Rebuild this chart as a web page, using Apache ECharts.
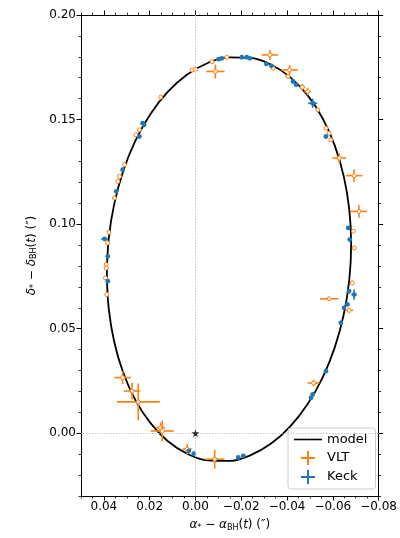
<!DOCTYPE html>
<html>
<head>
<meta charset="utf-8">
<script src="https://cdn.jsdelivr.net/npm/echarts@6/dist/echarts.min.js"></script>
<style>
html,body{margin:0;padding:0;background:#fff;}
#c{width:400px;height:538px;}
</style>
</head>
<body>
<div id="c"></div>
<script>
// ---- model orbit (points read along the drawn ellipse) ----
const modelX = [0.03870,0.03789,0.03548,0.03155,0.02622,0.01964,0.01203,0.00360,-0.00539,-0.01465,-0.02391,-0.03290,-0.04133,-0.04894,-0.05552,-0.06085,-0.06478,-0.06719,-0.06800,-0.06719,-0.06478,-0.06085,-0.05552,-0.04894,-0.04133,-0.03290,-0.02391,-0.01465,-0.00539,0.00360,0.01203,0.01964,0.02622,0.03155,0.03548,0.03789,0.03870];
const modelY = [0.07625,0.09311,0.10967,0.12544,0.13992,0.15267,0.16332,0.17154,0.17706,0.17975,0.17950,0.17632,0.17032,0.16167,0.15064,0.13756,0.12283,0.10689,0.09025,0.07339,0.05683,0.04106,0.02658,0.01383,0.00318,-0.00504,-0.01056,-0.01325,-0.01300,-0.00982,-0.00382,0.00483,0.01586,0.02894,0.04367,0.05961,0.07625];

// ---- VLT astrometry ----
const vltX  = [0.0152,0.0015,0.0000,-0.0087,-0.0072,-0.0137,-0.0325,-0.0339,-0.0411,-0.0404,-0.0467,-0.0490,-0.0534,-0.0570,-0.0584,-0.0591,-0.0628,-0.0693,-0.0714,-0.0690,-0.0693,-0.0685,-0.0584,-0.0671,-0.0516,0.0318,0.0277,0.0250,0.0152,0.0145,0.0036,-0.0084,0.0245,0.0260,0.0310,0.0332,0.0339,0.0354,0.0378,0.0383,0.0390,0.0390,0.0393,0.0387];
const vltY  = [0.1607,0.1737,0.1740,0.1730,0.1777,0.1798,0.1809,0.1746,0.1737,0.1706,0.1655,0.1634,0.1547,0.1459,0.1435,0.1403,0.1316,0.1232,0.1061,0.0966,0.0886,0.0719,0.0643,0.0588,0.0240,0.0266,0.0202,0.0150,0.0027,0.0011,-0.0076,-0.0124,0.1451,0.1427,0.1284,0.1228,0.1204,0.1125,0.0961,0.0910,0.0807,0.0790,0.0743,0.0663];
const vltEx = [0.0006,0.0006,0.0006,0.0040,0.0006,0.0006,0.0036,0.0006,0.0036,0.0008,0.0012,0.0015,0.0006,0.0006,0.0006,0.0006,0.0030,0.0036,0.0036,0.0006,0.0006,0.0006,0.0040,0.0017,0.0026,0.0036,0.0036,0.0094,0.0020,0.0050,0.0020,0.0043,0.0006,0.0006,0.0006,0.0006,0.0006,0.0006,0.0006,0.0006,0.0006,0.0006,0.0006,0.0006];
const vltEy = [0.0006,0.0006,0.0006,0.0033,0.0006,0.0006,0.0024,0.0006,0.0024,0.0008,0.0015,0.0018,0.0006,0.0006,0.0006,0.0006,0.0024,0.0030,0.0030,0.0006,0.0006,0.0010,0.0010,0.0012,0.0016,0.0030,0.0040,0.0088,0.0024,0.0050,0.0024,0.0045,0.0006,0.0006,0.0006,0.0006,0.0006,0.0006,0.0006,0.0006,0.0006,0.0006,0.0006,0.0006];

// ---- Keck astrometry ----
const keckX  = [-0.0101,-0.0115,-0.0202,-0.0224,-0.0238,-0.0310,-0.0332,-0.0426,-0.0440,-0.0512,-0.0570,-0.0667,-0.0674,-0.0671,-0.0693,-0.0664,-0.0649,-0.0635,-0.0570,-0.0512,-0.0505,0.0029,0.0007,-0.0187,-0.0209,0.0231,0.0224,0.0245,0.0318,0.0346,0.0397,0.0383,0.0383];
const keckY  = [0.1789,0.1793,0.1798,0.1798,0.1793,0.1766,0.1757,0.1682,0.1666,0.1578,0.1419,0.0982,0.0926,0.0679,0.0663,0.0616,0.0600,0.0528,0.0297,0.0186,0.0170,-0.0084,-0.0097,-0.0116,-0.0108,0.1483,0.1475,0.1419,0.1260,0.1157,0.0929,0.0846,0.0727];
const keckEx = [0.0008,0.0008,0.0008,0.0008,0.0008,0.0008,0.0008,0.0008,0.0008,0.0020,0.0008,0.0008,0.0008,0.0008,0.0012,0.0008,0.0008,0.0008,0.0008,0.0008,0.0008,0.0008,0.0008,0.0008,0.0008,0.0008,0.0008,0.0008,0.0008,0.0008,0.0015,0.0008,0.0008];
const keckEy = [0.0006,0.0006,0.0006,0.0006,0.0006,0.0006,0.0006,0.0006,0.0006,0.0022,0.0006,0.0006,0.0006,0.0010,0.0024,0.0008,0.0008,0.0010,0.0008,0.0008,0.0008,0.0006,0.0006,0.0006,0.0006,0.0006,0.0006,0.0006,0.0006,0.0006,0.0008,0.0006,0.0006];

// ---- black hole position ----
const bhX = [0];
const bhY = [0];

// ---- ticks ----
const xMajorTicks = [-0.08,-0.06,-0.04,-0.02,0,0.02,0.04];
const yMajorTicks = [0,0.05,0.10,0.15,0.20];

const FONT = 'DejaVu Sans';
const ORANGE = '#ff7f0e', BLUE = '#1f77b4';

function fmt(v){
  if (Math.abs(v) < 1e-9) v = 0;
  return v.toFixed(2).replace('-', '\u2212');
}

function errRender(color, filled){
  return function(params, api){
    const x = api.value(0), y = api.value(1), ex = api.value(2), ey = api.value(3);
    const c = api.coord([x, y]);
    const l = api.coord([x - ex, y]), r = api.coord([x + ex, y]);
    const t = api.coord([x, y + ey]), b = api.coord([x, y - ey]);
    return {
      type: 'group',
      children: [
        {type:'line', shape:{x1:l[0], y1:l[1], x2:r[0], y2:r[1]}, style:{stroke:color, lineWidth:1.6}},
        {type:'line', shape:{x1:t[0], y1:t[1], x2:b[0], y2:b[1]}, style:{stroke:color, lineWidth:1.6}},
        {type:'circle', shape:{cx:c[0], cy:c[1], r: filled ? 2.4 : 2.0},
          style: filled ? {fill:color} : {fill:'#fff', stroke:color, lineWidth:1}}
      ]
    };
  };
}

const xBase = {type:'value', min:-0.08, max:0.05, inverse:true, gridIndex:0, splitLine:{show:false}};
const yBase = {type:'value', min:-0.03, max:0.20, gridIndex:0, splitLine:{show:false}};
const lineBlack = {show:true, onZero:false, lineStyle:{color:'#000', width:1}};
const noLine = {show:false, onZero:false};

const rich = {
  i:{fontFamily:FONT, fontStyle:'italic', fontSize:12, color:'#000'},
  n:{fontFamily:FONT, fontSize:12, color:'#000'},
  s:{fontFamily:FONT, fontSize:8, color:'#000', verticalAlign:'bottom', padding:[6,0,0,0]}
};

const chart = echarts.init(document.getElementById('c'), null, {renderer:'canvas'});
chart.setOption({
  animation:false,
  backgroundColor:'#fff',
  grid:{left:81, right:17, top:15, bottom:42, containLabel:false},
  xAxis:[
    Object.assign({}, xBase, {position:'bottom',
      axisLine:lineBlack,
      axisTick:{show:true, inside:false, length:4.5, customValues:xMajorTicks, lineStyle:{color:'#000', width:1}},
      axisLabel:{show:true, customValues:xMajorTicks, formatter:fmt, fontFamily:FONT, fontSize:12, color:'#000', margin:5},
      name:'{i|\u03b1}{s|*}{n| \u2212 }{i|\u03b1}{s|BH}{n|(}{i|t}{n|) (\u2033)}',
      nameLocation:'middle', nameGap:22,
      nameTextStyle:{rich:rich}
    }),
    Object.assign({}, xBase, {position:'bottom', interval:0.005,
      axisLine:noLine,
      axisTick:{show:true, inside:false, length:2.5, lineStyle:{color:'#000', width:0.8}},
      axisLabel:{show:false}
    }),
    Object.assign({}, xBase, {position:'top',
      axisLine:lineBlack,
      axisTick:{show:true, inside:false, length:4.5, customValues:xMajorTicks, lineStyle:{color:'#000', width:1}},
      axisLabel:{show:false}
    }),
    Object.assign({}, xBase, {position:'top', interval:0.005,
      axisLine:noLine,
      axisTick:{show:true, inside:false, length:2.5, lineStyle:{color:'#000', width:0.8}},
      axisLabel:{show:false}
    })
  ],
  yAxis:[
    Object.assign({}, yBase, {position:'left',
      axisLine:lineBlack,
      axisTick:{show:true, inside:false, length:4.5, customValues:yMajorTicks, lineStyle:{color:'#000', width:1}},
      axisLabel:{show:true, customValues:yMajorTicks, formatter:fmt, fontFamily:FONT, fontSize:12, color:'#000', margin:5},
      name:'{i|\u03b4}{s|*}{n| \u2212 }{i|\u03b4}{s|BH}{n|(}{i|t}{n|) (\u2033)}',
      nameLocation:'middle', nameGap:40, nameRotate:90,
      nameTextStyle:{rich:rich}
    }),
    Object.assign({}, yBase, {position:'left', interval:0.01,
      axisLine:noLine,
      axisTick:{show:true, inside:false, length:2.5, lineStyle:{color:'#000', width:0.8}},
      axisLabel:{show:false}
    }),
    Object.assign({}, yBase, {position:'right',
      axisLine:lineBlack,
      axisTick:{show:true, inside:false, length:4.5, customValues:yMajorTicks, lineStyle:{color:'#000', width:1}},
      axisLabel:{show:false}
    }),
    Object.assign({}, yBase, {position:'right', interval:0.01,
      axisLine:noLine,
      axisTick:{show:true, inside:false, length:2.5, lineStyle:{color:'#000', width:0.8}},
      axisLabel:{show:false}
    })
  ],
  legend:{
    orient:'vertical', left:288, top:428,
    padding:[5,8,5,6], itemGap:5, itemWidth:28, itemHeight:14,
    backgroundColor:'rgba(255,255,255,0.85)', borderColor:'#cccccc', borderWidth:1, borderRadius:3,
    textStyle:{fontFamily:FONT, fontSize:13, color:'#000'},
    data:[
      {name:'model', icon:'path://M0,0H28V1.6H0Z'},
      {name:'VLT', icon:'path://M6,0H8V6H14V8H8V14H6V8H0V6H6Z'},
      {name:'Keck', icon:'path://M6,0H8V6H14V8H8V14H6V8H0V6H6Z'}
    ]
  },
  series:[
    {
      name:'model', type:'line', xAxisIndex:0, yAxisIndex:0,
      data: modelX.map((x,i)=>[x, modelY[i]]),
      smooth:0.4, symbol:'none', z:2,
      lineStyle:{color:'#000', width:1.8}, itemStyle:{color:'#000'},
      markLine:{
        silent:true, symbol:['none','none'], label:{show:false},
        lineStyle:{color:'#c8c8c8', width:1, type:[1.5,1.5]},
        data:[{xAxis:0},{yAxis:0}]
      }
    },
    {
      name:'VLT', type:'custom', xAxisIndex:0, yAxisIndex:0, z:3,
      itemStyle:{color:ORANGE},
      encode:{x:0, y:1},
      data: vltX.map((x,i)=>[x, vltY[i], vltEx[i], vltEy[i]]),
      renderItem: errRender(ORANGE, false)
    },
    {
      name:'Keck', type:'custom', xAxisIndex:0, yAxisIndex:0, z:4,
      itemStyle:{color:BLUE},
      encode:{x:0, y:1},
      data: keckX.map((x,i)=>[x, keckY[i], keckEx[i], keckEy[i]]),
      renderItem: errRender(BLUE, true)
    },
    {
      name:'Sgr A*', type:'scatter', xAxisIndex:0, yAxisIndex:0, z:5,
      data: bhX.map((x,i)=>[x, bhY[i]]),
      symbol:'path://M50,0 L61,35 L98,35 L68,57 L79,91 L50,70 L21,91 L32,57 L2,35 L39,35 Z',
      symbolSize:8, itemStyle:{color:'#000'}
    }
  ]
});
</script>
</body>
</html>
